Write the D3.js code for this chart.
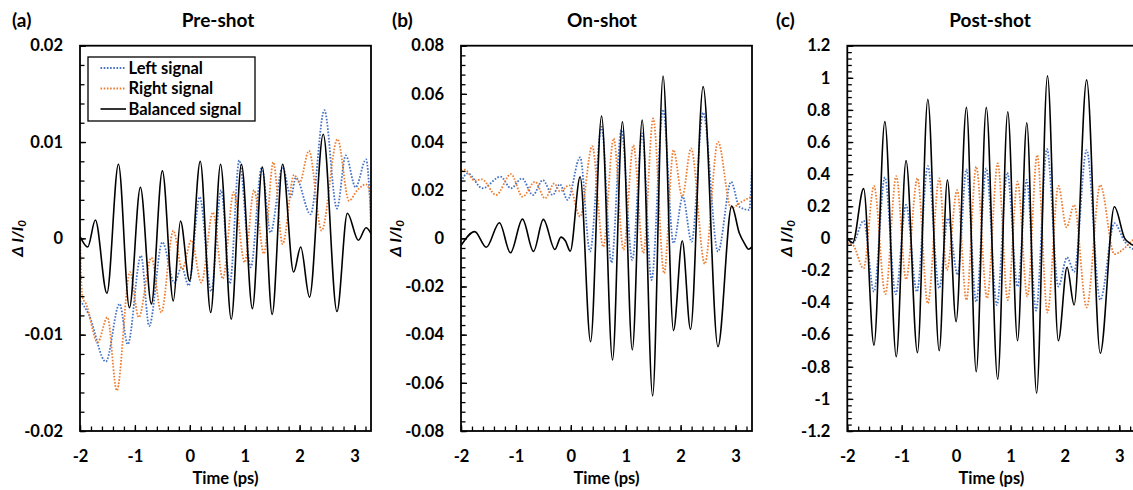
<!DOCTYPE html>
<html><head><meta charset="utf-8">
<script src="https://cdn.jsdelivr.net/npm/d3@7"></script>
<style>
body{margin:0;background:#fff}
svg{display:block}
text{font-family:Lato,'Open Sans',sans-serif}
</style>
</head><body>
<svg id="chart" width="1133" height="490"></svg>
<script>
// ---------- DATA ----------
const seriesNames = ["Left signal", "Right signal", "Balanced signal"];
const panelLetters = ["(a)", "(b)", "(c)"];
const panelTitles = ["Pre-shot", "On-shot", "Post-shot"];
const timeTicks = [-2, -1, 0, 1, 2, 3];
const timeDomain = [-2, 3.3];
const preTicks = [-0.02, -0.01, 0, 0.01, 0.02];
const onTicks = [-0.08, -0.06, -0.04, -0.02, 0, 0.02, 0.04, 0.06, 0.08];
const postTicks = [-1.2, -1, -0.8, -0.6, -0.4, -0.2, 0, 0.2, 0.4, 0.6, 0.8, 1, 1.2];
const xLabel = "Time (ps)";

// Pre-shot  [time (ps), ΔI/I0]
const preLeft = [[-2.0,-0.0065],[-1.93,-0.0070],[-1.84,-0.0079],[-1.53,-0.0128],[-1.28,-0.0068],[-1.13,-0.0110],[-0.89,-0.0018],[-0.74,-0.0091],[-0.50,-0.0004],[-0.28,-0.0046],[-0.15,-0.0030],[-0.02,-0.0049],[0.18,0.0043],[0.39,-0.0055],[0.57,0.0050],[0.73,-0.0047],[0.90,0.0081],[1.11,-0.0030],[1.31,0.0074],[1.47,0.0006],[1.69,0.0074],[1.84,0.0043],[1.93,0.0063],[2.20,0.0025],[2.45,0.0133],[2.68,0.0031],[2.84,0.0086],[3.02,0.0053],[3.21,0.0082],[3.30,0.0020]];
const preRight = [[-2.0,0.0012],[-1.98,-0.0040],[-1.95,-0.0062],[-1.89,-0.0068],[-1.68,-0.0108],[-1.50,-0.0082],[-1.33,-0.0158],[-1.09,-0.0035],[-0.93,-0.0082],[-0.70,-0.0020],[-0.52,-0.0077],[-0.30,0.0008],[-0.14,-0.0032],[0.03,-0.0002],[0.21,-0.0046],[0.42,0.0027],[0.60,-0.0042],[0.80,0.0048],[1.00,-0.0025],[1.17,0.0050],[1.35,-0.0016],[1.52,0.0079],[1.69,-0.0006],[1.90,0.0066],[2.00,0.0058],[2.17,0.0091],[2.40,0.0008],[2.69,0.0103],[2.90,0.0039],[3.05,0.0050],[3.21,0.0056],[3.27,0.0050],[3.30,0.0005]];
const preBalanced = [[-2.0,0.0002],[-1.86,-0.0009],[-1.72,0.0019],[-1.51,-0.0057],[-1.30,0.0077],[-1.10,-0.0072],[-0.90,0.0053],[-0.70,-0.0068],[-0.50,0.0070],[-0.30,-0.0065],[-0.17,0.0018],[-0.005,-0.0044],[0.19,0.0080],[0.38,-0.0077],[0.56,0.0077],[0.755,-0.0084],[0.94,0.0077],[1.14,-0.0073],[1.32,0.0074],[1.50,-0.0079],[1.69,0.0077],[1.89,-0.0035],[2.02,-0.0009],[2.18,-0.0061],[2.43,0.0108],[2.68,-0.0076],[2.87,0.0026],[3.07,-0.0002],[3.21,0.0011],[3.30,0.0005]];

// On-shot
const onLeft = [[-2.0,0.0235],[-1.88,0.0270],[-1.61,0.0208],[-1.28,0.0256],[-1.09,0.0208],[-0.89,0.0249],[-0.69,0.0180],[-0.51,0.0242],[-0.33,0.0180],[-0.20,0.0225],[-0.06,0.0160],[0.17,0.0336],[0.35,-0.0055],[0.56,0.0463],[0.74,-0.0101],[0.92,0.0450],[1.12,-0.0090],[1.30,0.0436],[1.47,-0.0173],[1.68,0.0535],[1.87,-0.0020],[2.04,0.0173],[2.20,-0.0014],[2.41,0.0522],[2.68,-0.0055],[2.92,0.0235],[3.07,0.0131],[3.25,0.0118],[3.30,0.0300]];
const onRight = [[-2.0,0.0280],[-1.93,0.0285],[-1.75,0.0240],[-1.62,0.0245],[-1.36,0.0180],[-1.09,0.0267],[-0.88,0.0173],[-0.65,0.0235],[-0.47,0.0166],[-0.30,0.0228],[-0.20,0.0195],[-0.03,0.0220],[0.17,0.0090],[0.39,0.0383],[0.59,-0.0035],[0.78,0.0415],[0.96,-0.0048],[1.14,0.0387],[1.32,-0.0062],[1.50,0.0498],[1.70,-0.0145],[1.87,0.0367],[2.03,0.0173],[2.19,0.0374],[2.44,-0.0106],[2.68,0.0401],[2.92,0.0125],[3.10,0.0150],[3.30,0.0175]];
const onBalanced = [[-2.0,-0.0030],[-1.75,0.0028],[-1.54,-0.0037],[-1.30,0.0065],[-1.10,-0.0060],[-0.88,0.0080],[-0.68,-0.0054],[-0.50,0.0079],[-0.29,-0.0046],[-0.18,0.0005],[-0.10,-0.0010],[-0.01,-0.0053],[0.17,0.0256],[0.36,-0.0429],[0.56,0.0508],[0.76,-0.0505],[0.94,0.0484],[1.12,-0.0463],[1.30,0.0491],[1.49,-0.0654],[1.68,0.0674],[1.87,-0.0383],[2.03,-0.0010],[2.18,-0.0378],[2.41,0.0630],[2.68,-0.0450],[2.93,0.0134],[3.07,0.0021],[3.16,-0.0020],[3.24,-0.0045],[3.30,-0.0035]];

// Post-shot
const postLeft = [[-2.0,-0.01],[-1.90,-0.03],[-1.70,0.11],[-1.51,-0.332],[-1.31,0.38],[-1.11,-0.347],[-0.92,0.208],[-0.72,-0.332],[-0.52,0.45],[-0.31,-0.311],[-0.15,0.125],[0.03,-0.228],[0.19,0.43],[0.37,-0.395],[0.555,0.436],[0.75,-0.415],[0.94,0.41],[1.13,-0.30],[1.30,0.364],[1.47,-0.45],[1.67,0.557],[1.88,-0.30],[2.04,-0.118],[2.17,-0.208],[2.40,0.55],[2.65,-0.384],[2.91,0.094],[3.10,-0.02],[3.22,-0.062],[3.30,-0.07]];
const postRight = [[-2.0,-0.03],[-1.90,-0.04],[-1.70,-0.187],[-1.51,0.326],[-1.30,-0.347],[-1.10,0.388],[-0.92,-0.255],[-0.71,0.374],[-0.52,-0.405],[-0.31,0.374],[-0.17,-0.197],[0.02,0.30],[0.19,-0.384],[0.37,0.446],[0.57,-0.373],[0.765,0.467],[0.95,-0.384],[1.13,0.353],[1.31,-0.363],[1.49,0.519],[1.68,-0.463],[1.88,0.326],[2.03,0.069],[2.17,0.208],[2.40,-0.43],[2.65,0.332],[2.91,-0.098],[3.10,-0.06],[3.25,-0.01],[3.30,0.0]];
const postBalanced = [[-2.0,0.0],[-1.90,-0.027],[-1.70,0.31],[-1.51,-0.665],[-1.31,0.727],[-1.10,-0.737],[-0.92,0.484],[-0.71,-0.712],[-0.52,0.866],[-0.31,-0.70],[-0.16,0.363],[0.00,-0.519],[0.19,0.816],[0.37,-0.831],[0.555,0.816],[0.765,-0.878],[0.95,0.789],[1.13,-0.638],[1.30,0.72],[1.48,-0.965],[1.68,1.012],[1.88,-0.638],[2.04,-0.18],[2.17,-0.415],[2.40,0.987],[2.65,-0.716],[2.91,0.197],[3.10,0.0],[3.19,-0.03],[3.30,-0.05]];

// ---------- LAYOUT / STYLE ----------
const colors = ["#4472C4", "#ED7D31", "#000000"];
const dashes = ["1.6,1.6", "1.6,1.6", null];
const widths = [1.8, 1.8, 1.6];
const fontTick = 16.5, fontTitle = 19, fontLegend = 16.5;

const panels = [
  {left:80, right:371, yDomain:[-0.02,0.02], ticks:preTicks, minorStep:0.002, dec:3, series:[preLeft,preRight,preBalanced], titleX:218, letterX:12, yTitleX:23, legend:true},
  {left:461, right:752, yDomain:[-0.08,0.08], ticks:onTicks, minorStep:0.004, dec:3, series:[onLeft,onRight,onBalanced], titleX:602, letterX:392, yTitleX:401, legend:false},
  {left:847.3, right:1135.6, yDomain:[-1.2,1.2], ticks:postTicks, minorStep:0.04, dec:2, series:[postLeft,postRight,postBalanced], titleX:990, letterX:776, yTitleX:792, legend:false}
];
const plotTop = 45.7, plotBottom = 431;

const svg = d3.select("#chart");

panels.forEach((p, i) => {
  const x = d3.scaleLinear().domain(timeDomain).range([p.left, p.right]);
  const y = d3.scaleLinear().domain(p.yDomain).range([plotBottom, plotTop]);
  const g = svg.append("g");

  const cid = "clip" + i;
  svg.append("clipPath").attr("id", cid).append("rect")
    .attr("x", p.left).attr("y", plotTop).attr("width", p.right - p.left).attr("height", plotBottom - plotTop);

  const line = d3.line().x(d => x(d[0])).y(d => y(d[1])).curve(d3.curveMonotoneX);
  const lg = g.append("g").attr("clip-path", `url(#${cid})`);
  p.series.forEach((s, k) => {
    lg.append("path").datum(s).attr("d", line)
      .attr("fill", "none").attr("stroke", colors[k]).attr("stroke-width", widths[k])
      .attr("stroke-dasharray", dashes[k]).attr("stroke-linejoin", "round");
  });

  const yMinor = d3.range(p.yDomain[0], p.yDomain[1] + p.minorStep / 2, p.minorStep);
  g.append("g").attr("transform", `translate(${p.left},0)`)
    .call(d3.axisLeft(y).tickValues(yMinor).tickSizeInner(-4.5).tickSizeOuter(0).tickFormat(""))
    .call(a => a.select(".domain").remove())
    .call(a => a.selectAll("line").attr("stroke-width", 1.3));
  const xMinor = d3.range(-2, 3.3, 0.2);
  g.append("g").attr("transform", `translate(0,${plotBottom})`)
    .call(d3.axisBottom(x).tickValues(xMinor).tickSizeInner(-4.5).tickSizeOuter(0).tickFormat(""))
    .call(a => a.select(".domain").remove())
    .call(a => a.selectAll("line").attr("stroke-width", 1.3));

  g.append("g").attr("transform", `translate(${p.left},0)`)
    .call(d3.axisLeft(y).tickValues(p.ticks).tickSizeInner(-6).tickSizeOuter(0).tickPadding(17)
      .tickFormat(d => Math.abs(d) < 1e-9 ? "0" : String(+d.toFixed(p.dec))))
    .call(a => a.select(".domain").remove())
    .call(a => a.selectAll("line").attr("stroke-width", 1.3))
    .call(a => a.selectAll("text").attr("font-size", fontTick).attr("font-weight", "bold")
      .attr("font-family", "Lato, 'Open Sans', sans-serif").attr("fill", "#000"));
  g.append("g").attr("transform", `translate(0,${plotBottom})`)
    .call(d3.axisBottom(x).tickValues(timeTicks).tickSizeInner(-6).tickSizeOuter(0).tickPadding(19)
      .tickFormat(d => String(d)))
    .call(a => a.select(".domain").remove())
    .call(a => a.selectAll("line").attr("stroke-width", 1.3))
    .call(a => a.selectAll("text").attr("font-size", fontTick).attr("font-weight", "bold")
      .attr("font-family", "Lato, 'Open Sans', sans-serif").attr("fill", "#000"));

  g.append("rect").attr("x", p.left).attr("y", plotTop)
    .attr("width", p.right - p.left).attr("height", plotBottom - plotTop)
    .attr("fill", "none").attr("stroke", "#000").attr("stroke-width", 1.8);

  g.append("text").attr("x", p.titleX).attr("y", 26.5).attr("text-anchor", "middle")
    .attr("font-size", fontTitle).attr("font-weight", "bold").text(panelTitles[i]);
  g.append("text").attr("x", p.letterX).attr("y", 27)
    .attr("font-size", fontTitle).attr("font-weight", "bold").text(panelLetters[i]);
  g.append("text").attr("x", (p.left + p.right) / 2).attr("y", 484).attr("text-anchor", "middle")
    .attr("font-size", fontTick).attr("font-weight", "bold").text(xLabel);
  const yt = g.append("text").attr("transform", `translate(${p.yTitleX},${(plotTop + plotBottom) / 2}) rotate(-90)`)
    .attr("text-anchor", "middle").attr("font-size", 16).attr("font-style", "italic").attr("font-weight", "bold");
  yt.append("tspan").text("\u0394 I/I");
  yt.append("tspan").attr("font-size", 11.5).attr("dy", 3).text("0");

  if (p.legend) {
    const lgd = g.append("g");
    lgd.append("rect").attr("x", 88).attr("y", 57).attr("width", 167).attr("height", 64)
      .attr("fill", "#fff").attr("stroke", "#000").attr("stroke-width", 1.3);
    seriesNames.forEach((n, k) => {
      const yy = 68 + k * 20.5;
      lgd.append("line").attr("x1", 100.5).attr("x2", 126).attr("y1", yy).attr("y2", yy)
        .attr("stroke", colors[k]).attr("stroke-width", widths[k]).attr("stroke-dasharray", dashes[k]);
      lgd.append("text").attr("x", 128.5).attr("y", yy).attr("dy", "0.35em")
        .attr("font-size", fontLegend).attr("font-weight", "bold").text(n);
    });
  }
});
</script>
</body></html>
